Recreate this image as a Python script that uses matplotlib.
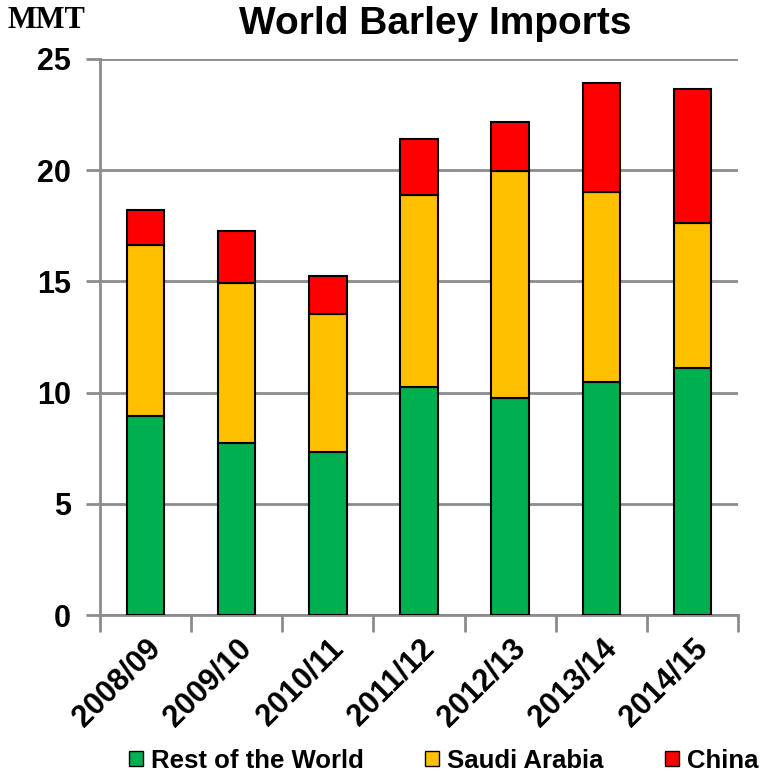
import matplotlib.pyplot as plt
from matplotlib.patches import Patch

years = ["2008/09", "2009/10", "2010/11", "2011/12", "2012/13", "2013/14", "2014/15"]
rest_of_world = [8.93, 7.72, 7.33, 10.26, 9.74, 10.46, 11.09]
saudi_arabia = [7.69, 7.19, 6.22, 8.61, 10.23, 8.54, 6.52]
china = [1.61, 2.37, 1.68, 2.54, 2.21, 4.91, 6.04]

green = "#00B050"
yellow = "#FFC000"
red = "#FF0000"

plt.rcParams['font.family'] = ['Liberation Sans', 'DejaVu Sans']
plt.rcParams['font.weight'] = 'bold'

fig = plt.figure(figsize=(7.61, 7.71), dpi=100)
ax = fig.add_axes([0.1314, 0.2023, 0.8384, 0.7212])

x = list(range(len(years)))
saudi_bottom = rest_of_world
china_bottom = [a + b for a, b in zip(rest_of_world, saudi_arabia)]

w = 0.41
ax.bar(x, rest_of_world, w, color=green, edgecolor="black", linewidth=1.5, zorder=3)
ax.bar(x, saudi_arabia, w, bottom=saudi_bottom, color=yellow, edgecolor="black", linewidth=1.5, zorder=3)
ax.bar(x, china, w, bottom=china_bottom, color=red, edgecolor="black", linewidth=1.5, zorder=3)

ax.set_xlim(-0.5, len(years) - 0.5)
ax.set_ylim(0, 25)
ax.set_yticks([0, 5, 10, 15, 20, 25])
ax.yaxis.grid(True, color="#8c8c8c", linewidth=2, zorder=0)
ax.set_axisbelow(True)

for s in ["top", "right"]:
    ax.spines[s].set_visible(False)
for s in ["left", "bottom"]:
    ax.spines[s].set_color("#8c8c8c")
    ax.spines[s].set_linewidth(2)

# category ticks between the bars, labels at the centres
ax.set_xticks([i - 0.5 for i in range(len(years) + 1)])
ax.set_xticklabels([])
ax.set_xticks(x, minor=True)
ax.set_xticklabels(years, minor=True, rotation=45, ha="right", va="top",
                   rotation_mode="anchor", fontsize=22, fontweight="bold")
ax.tick_params(axis="x", which="major", length=12, width=2, color="#8c8c8c")
ax.tick_params(axis="x", which="minor", length=0, pad=13)
ax.tick_params(axis="y", length=10, width=2, color="#8c8c8c", labelsize=22, pad=11)

fig.text(0.572, 0.969, "World Barley Imports", ha="center", va="center",
         fontsize=28, fontweight="bold")
fig.text(0.01, 0.973, "MMT", ha="left", va="center", fontsize=22, fontweight="bold",
         family="Liberation Serif")

handles = [Patch(facecolor=green, edgecolor="black"),
           Patch(facecolor=yellow, edgecolor="black"),
           Patch(facecolor=red, edgecolor="black")]
fig.legend(handles, ["Rest of the World", "Saudi Arabia", "China"], loc="lower center",
           bbox_to_anchor=(0.583, -0.032), ncol=3, frameon=False,
           handlelength=0.55, handleheight=0.55, handletextpad=0.3, columnspacing=2.4,
           prop={"weight": "bold", "size": 18.5})

fig.savefig("out.png", dpi=100)
